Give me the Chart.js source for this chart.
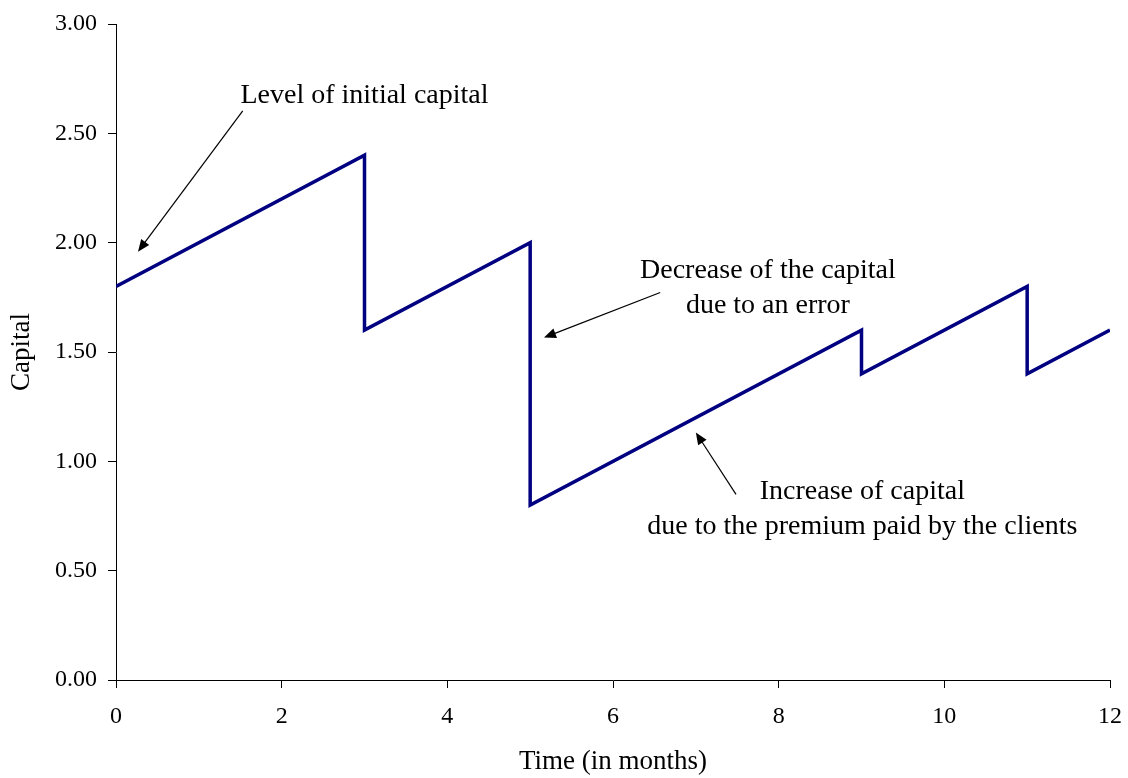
<!DOCTYPE html>
<html>
<head>
<meta charset="utf-8">
<script src="https://cdn.jsdelivr.net/npm/chart.js@4.4.1/dist/chart.umd.min.js"></script>
<style>
  html, body { margin: 0; padding: 0; background: #fff; }
  canvas { display: block; }
</style>
</head>
<body>
<canvas id="capitalChart" width="1128" height="778"></canvas>
<script>
// capital over time: slow rise from premiums, sudden drops from errors
var months = [0, 3, 3, 5, 5, 9, 9, 11, 11, 12];
var capital = [1.8, 2.4, 1.6, 2.0, 0.8, 1.6, 1.4, 1.8, 1.4, 1.6];

var xTicks = [0, 2, 4, 6, 8, 10, 12];
var yTicks = [0, 0.5, 1, 1.5, 2, 2.5, 3];

// annotation texts, placed in data units
var notes = [
    { lines: ['Level of initial capital'], x: 3.0, y: 2.671, from: [1.53, 2.603], to: [0.266, 1.959] },
    { lines: ['Decrease of the capital', 'due to an error'], x: 7.87, y: 1.872, from: [6.57, 1.772], to: [5.167, 1.566] },
    { lines: ['Increase of capital', 'due to the premium paid by the clients'], x: 9.01, y: 0.863, from: [7.485, 0.849], to: [7.0, 1.132] }
];

var serif = "'Liberation Serif', 'Times New Roman', serif";

var notesPlugin = {
    id: 'notes',
    afterDatasetsDraw: function(chart) {
        var ctx = chart.ctx;
        var xs = chart.scales.x, ys = chart.scales.y;
        ctx.save();
        ctx.fillStyle = '#000';
        ctx.strokeStyle = '#000';
        ctx.lineWidth = 1.2;
        ctx.font = '28px ' + serif;
        ctx.textAlign = 'center';
        ctx.textBaseline = 'middle';
        notes.forEach(function(n) {
            var cx = xs.getPixelForValue(n.x);
            var cy = ys.getPixelForValue(n.y);
            n.lines.forEach(function(t, i) {
                ctx.fillText(t, cx, cy + i * 35);
            });
            var x1 = xs.getPixelForValue(n.from[0]), y1 = ys.getPixelForValue(n.from[1]);
            var x2 = xs.getPixelForValue(n.to[0]), y2 = ys.getPixelForValue(n.to[1]);
            var ang = Math.atan2(y2 - y1, x2 - x1);
            var head = 12;
            ctx.beginPath();
            ctx.moveTo(x1, y1);
            ctx.lineTo(x2 - Math.cos(ang) * head * 0.8, y2 - Math.sin(ang) * head * 0.8);
            ctx.stroke();
            ctx.beginPath();
            ctx.moveTo(x2, y2);
            ctx.lineTo(x2 - head * Math.cos(ang) + 5 * Math.sin(ang), y2 - head * Math.sin(ang) - 5 * Math.cos(ang));
            ctx.lineTo(x2 - head * Math.cos(ang) - 5 * Math.sin(ang), y2 - head * Math.sin(ang) + 5 * Math.cos(ang));
            ctx.closePath();
            ctx.fill();
        });
        ctx.restore();
    }
};

var ctx = document.getElementById('capitalChart').getContext('2d');
new Chart(ctx, {
    type: 'scatter',
    data: {
        datasets: [{
            label: 'Capital',
            data: months.map(function(m, i) { return { x: m, y: capital[i] }; }),
            showLine: true,
            borderColor: '#000080',
            backgroundColor: '#000080',
            borderWidth: 3.5,
            pointRadius: 0,
            borderJoinStyle: 'miter',
            tension: 0
        }]
    },
    options: {
        responsive: false,
        animation: false,
        layout: { padding: { left: 0, top: 24, right: 18, bottom: 0 } },
        plugins: {
            legend: { display: false },
            tooltip: { enabled: false }
        },
        scales: {
            x: {
                type: 'linear',
                min: 0,
                max: 12,
                afterBuildTicks: function(axis) {
                    axis.ticks = xTicks.map(function(v) { return { value: v }; });
                },
                afterFit: function(axis) {
                    axis.height = 98;
                    axis.paddingLeft = 0;
                    axis.paddingRight = 0;
                },
                grid: { drawOnChartArea: false, color: '#000', tickLength: 8 },
                border: { color: '#000', width: 1 },
                ticks: {
                    color: '#000',
                    padding: 14,
                    maxRotation: 0,
                    font: { family: serif, size: 24 }
                },
                title: {
                    display: true,
                    text: 'Time (in months)',
                    color: '#000',
                    padding: { top: 0, bottom: 0 },
                    font: { family: serif, size: 27 }
                }
            },
            y: {
                min: 0,
                max: 3,
                afterBuildTicks: function(axis) {
                    axis.ticks = yTicks.map(function(v) { return { value: v }; });
                },
                afterFit: function(axis) {
                    axis.width = 116;
                    axis.paddingTop = 0;
                    axis.paddingBottom = 0;
                },
                grid: { drawOnChartArea: false, color: '#000', tickLength: 8 },
                border: { color: '#000', width: 1 },
                ticks: {
                    color: '#000',
                    padding: 11,
                    font: { family: serif, size: 24 },
                    callback: function(v) { return Number(v).toFixed(2); }
                },
                title: {
                    display: true,
                    text: 'Capital',
                    color: '#000',
                    padding: { top: 6, bottom: 0 },
                    font: { family: serif, size: 27 }
                }
            }
        }
    },
    plugins: [notesPlugin]
});
</script>
</body>
</html>
